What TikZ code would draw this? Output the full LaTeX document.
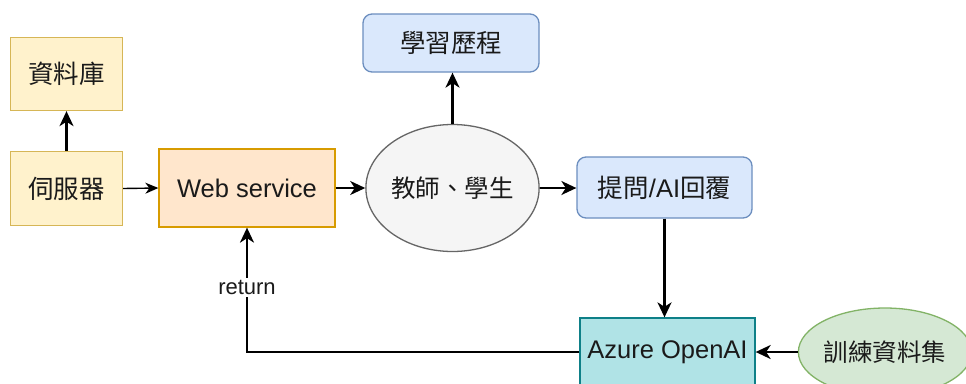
\documentclass[tikz,border=0pt]{standalone}
\usepackage{fontspec}
\setmainfont{Liberation Sans}
\newfontfamily\cjk{Noto Sans CJK TC}
\usetikzlibrary{arrows.meta,shapes.geometric}
\definecolor{yfill}{HTML}{FFF2CC}\definecolor{ydraw}{HTML}{D6B656}
\definecolor{ofill}{HTML}{FFE6CC}\definecolor{odraw}{HTML}{D79B00}
\definecolor{gfill}{HTML}{F5F5F5}\definecolor{gdraw}{HTML}{666666}
\definecolor{bfill}{HTML}{DAE8FC}\definecolor{bdraw}{HTML}{6C8EBF}
\definecolor{tfill}{HTML}{B0E3E6}\definecolor{tdraw}{HTML}{0E8088}
\definecolor{grfill}{HTML}{D5E8D4}\definecolor{grdraw}{HTML}{82B366}
\definecolor{txt}{HTML}{1A1A1A}
\tikzset{
  base/.style={draw, line width=1.3pt, text=txt, inner sep=0pt, font=\fontsize{25.5}{30}\selectfont},
  ybox/.style={base, fill=yfill, draw=ydraw, minimum width=112pt, minimum height=73pt},
  obox/.style={base, fill=ofill, draw=odraw, minimum width=176pt, minimum height=78pt},
  bbox/.style={base, fill=bfill, draw=bdraw, rounded corners=9pt, minimum width=176pt, minimum height=59pt},
  tbox/.style={base, fill=tfill, draw=tdraw, minimum width=175pt, minimum height=68pt},
  gcirc/.style={base, ellipse, fill=gfill, draw=gdraw, minimum width=134pt, minimum height=127pt, font=\fontsize{24.5}{28}\selectfont},
  gell/.style={base, ellipse, fill=grfill, draw=grdraw, minimum width=166pt, minimum height=88pt, font=\fontsize{24.5}{28}\selectfont},
  conn/.style={line width=2.2pt, -{Stealth[length=15pt,width=14pt,inset=4.5pt]}},
  thinconn/.style={line width=1.4pt, -{Stealth[length=13pt,width=11pt,inset=4pt]}},
  lbl/.style={fill=white, text=txt, inner sep=2pt, font=\fontsize{22}{26}\selectfont}
}
\begin{document}
\begin{tikzpicture}[x=1pt,y=-1pt]
\useasboundingbox (0,0) rectangle (966,383);
\clip (0,0) rectangle (966,383);
\fill[white] (0,0) rectangle (966,383);
\node[ybox] (db) at (66.5,74) {\cjk 資料庫};
\node[ybox, minimum height=74pt] (srv) at (66.5,188.5) {\cjk 伺服器};
\node[obox] (web) at (247,188) {Web service};
\node[gcirc] (circ) at (452.5,188) {\cjk 教師、學生};
\node[bbox, minimum height=58pt] (hist) at (451,43) {\cjk 學習歷程};
\node[bbox, minimum width=175pt, minimum height=61pt] (ask) at (664.5,187.5) {{\cjk 提問}/AI{\cjk 回覆}};
\node[tbox] (az) at (667.5,352) {Azure OpenAI};
\node[gell] (train) at (885,352) {\cjk 訓練資料集};
\coordinate (corner) at (247,352);
\draw[conn] (srv.north) -- (db.south);
\draw[thinconn] (srv.east) -- (web.west);
\draw[conn] (web.east) -- (circ.west);
\draw[conn] (circ.north) -- (circ.north |- hist.south);
\draw[conn] (circ.east) -- (circ.east -| ask.west);
\draw[conn] (ask.south) -- (ask.south |- az.north);
\draw[conn] (train.west) -- (az.east);
\draw[conn] (az.west) -- (corner) -- node[lbl, pos=0.52] (ret) {return} (web.south);
\end{tikzpicture}
\end{document}
